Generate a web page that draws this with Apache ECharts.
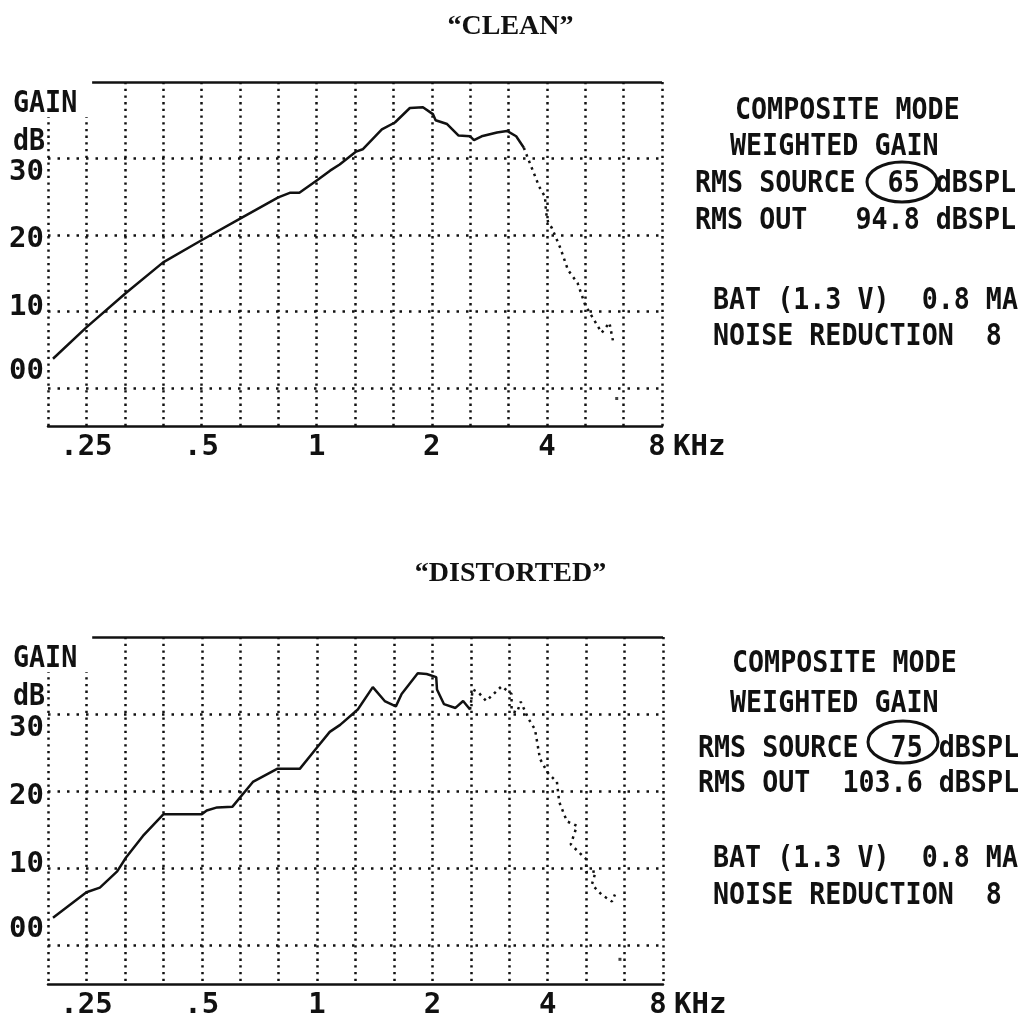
<!DOCTYPE html>
<html><head><meta charset="utf-8">
<script src="https://cdn.jsdelivr.net/npm/echarts@6/dist/echarts.min.js"></script>
<style>html,body{margin:0;padding:0;background:#fff}#c{width:1021px;height:1024px}</style>
</head><body><div id="c"></div>
<script>
// x positions are 1/3-octave band steps: band 1 = .25 kHz, band 16 = 8 kHz
const bandTicks = [1, 4, 7, 10, 13, 16];
const bandTickLabels = ['.25', '.5', '1', '2', '4', '8'];
const gainTicks = [0, 10, 20, 30];
const gainTickLabels = ['00', '10', '20', '30'];
const chartTitles = ['\u201CCLEAN\u201D', '\u201CDISTORTED\u201D'];

// "CLEAN" curve
const cleanSolidBand = [0.13, 1.0, 2.03, 3.0, 4.0, 5.03, 6.0, 6.3, 6.55, 7.03, 7.35, 7.6, 8.03, 8.2, 8.7, 9.04, 9.43, 9.77, 10.03, 10.1, 10.4, 10.7, 11.0, 11.1, 11.3, 11.7, 11.96, 12.2, 12.4];
const cleanSolidGain = [3.8, 7.9, 12.4, 16.4, 19.3, 22.2, 24.9, 25.5, 25.5, 27.2, 28.4, 29.2, 30.9, 31.2, 33.8, 34.7, 36.6, 36.7, 35.8, 35.0, 34.5, 33.0, 32.9, 32.4, 32.9, 33.4, 33.6, 32.9, 31.4];
const cleanDotBand = [12.4, 12.5, 12.65, 12.8, 12.95, 12.98, 13.03, 13.13, 13.35, 13.55, 13.8, 14.0, 14.43, 14.63, 14.72];
const cleanDotGain = [31.4, 30.1, 28.2, 26.3, 25.0, 22.9, 21.7, 20.9, 18.3, 15.4, 13.7, 10.8, 7.2, 8.5, 6.2];
const cleanStrayBand = [14.82];
const cleanStrayGain = [-1.4];

// "DISTORTED" curve
const distSolidBand = [0.13, 1.0, 1.35, 1.8, 2.03, 2.47, 3.0, 4.0, 4.13, 4.4, 4.8, 5.33, 5.96, 6.55, 7.02, 7.33, 7.6, 8.06, 8.45, 8.76, 9.05, 9.2, 9.62, 9.85, 10.1, 10.12, 10.3, 10.6, 10.8, 10.98];
const distSolidGain = [3.6, 6.9, 7.5, 9.6, 11.4, 14.2, 17.0, 17.0, 17.5, 17.9, 18.0, 21.2, 22.9, 22.9, 25.8, 27.7, 28.6, 30.6, 33.5, 31.7, 31.0, 32.6, 35.3, 35.2, 34.8, 33.2, 31.3, 30.8, 31.7, 30.6];
const distDotBand = [10.98, 11.05, 11.2, 11.4, 11.8, 12.06, 12.06, 12.2, 12.3, 12.5, 12.67, 12.8, 13.0, 13.24, 13.3, 13.5, 13.76, 13.6, 14.0, 14.0, 14.25, 14.15, 14.4, 14.67, 14.75];
const distDotGain = [30.6, 33.2, 32.8, 31.7, 33.6, 32.6, 30.4, 30.2, 31.6, 29.4, 28.0, 24.2, 22.4, 21.2, 18.6, 16.1, 15.5, 13.1, 11.2, 9.5, 9.6, 7.9, 6.6, 5.7, 6.6];
const distStrayBand = [14.88];
const distStrayGain = [-1.8];

// right-hand readout panels
const panelTopLines = ['COMPOSITE MODE', 'WEIGHTED GAIN', 'RMS SOURCE  65 dBSPL', 'RMS OUT   94.8 dBSPL', 'BAT (1.3 V)  0.8 MA', 'NOISE REDUCTION  8'];
const panelBottomLines = ['COMPOSITE MODE', 'WEIGHTED GAIN', 'RMS SOURCE  75 dBSPL', 'RMS OUT  103.6 dBSPL', 'BAT (1.3 V)  0.8 MA', 'NOISE REDUCTION  8'];

const INK = '#111';
const MONO = '"DejaVu Sans Mono", monospace';
const grids = [
  {left: 48, top: 82, width: 614, height: 344},
  {left: 48, top: 637, width: 615, height: 347}
];
const panelX = [[735, 730, 695, 695, 713, 713], [732, 730, 698, 698, 713, 713]];
const panelY = [[95, 131, 168, 205, 285, 321], [648, 688, 733, 768, 843, 880]];
const ellipses = [{cx: 902, cy: 182, rx: 35, ry: 20}, {cx: 903, cy: 742, rx: 35, ry: 21}];

const pairs = (b, g) => b.map((x, i) => [x, g[i]]);
const xRich = {
  n: {fontFamily: MONO, fontWeight: 'bold', fontSize: 29, color: INK},
  e: {fontFamily: MONO, fontWeight: 'bold', fontSize: 29, color: INK, padding: [0, 10, 0, 0]}
};
const bandFmt = v => {
  const i = bandTicks.indexOf(v);
  if (i < 0) return '';
  return (i === bandTicks.length - 1 ? '{e|' : '{n|') + bandTickLabels[i] + '}';
};
const shift = {0: [0, 0, 32, 0], 10: [0, 0, 8, 0], 20: [10, 0, 0, 0], 30: [28, 0, 0, 0]};
const rich = {};
gainTicks.forEach(v => { rich['s' + v] = {fontFamily: MONO, fontWeight: 'bold', fontSize: 29, color: INK, padding: shift[v]}; });
const gainFmt = v => { const i = gainTicks.indexOf(v); return i >= 0 ? '{s' + v + '|' + gainTickLabels[i] + '}' : ''; };

const xAxes = [], yAxes = [], series = [], graphics = [];
[0, 1].forEach(k => {
  xAxes.push({
    gridIndex: k, type: 'value', min: 0, max: 16, interval: 1,
    axisLine: {show: true, onZero: false, lineStyle: {color: INK, width: 2.5}},
    axisTick: {show: false},
    splitLine: {show: true, lineStyle: {color: INK, width: 2.5, type: [2.3, 4.4]}},
    axisLabel: {formatter: bandFmt, rich: xRich, margin: 7, color: INK, fontFamily: MONO, fontWeight: 'bold', fontSize: 29},
    name: 'KHz', nameLocation: 'end', nameGap: 11,
    nameTextStyle: {color: INK, fontFamily: MONO, fontWeight: 'bold', fontSize: 29, verticalAlign: 'top', align: 'left', padding: [7, 0, 0, 0]}
  });
  yAxes.push({
    gridIndex: k, type: 'value', min: -5, max: 40, minInterval: 10, maxInterval: 10, splitNumber: 5,
    axisLine: {show: false}, axisTick: {show: false},
    splitLine: {show: true, showMinLine: false, showMaxLine: false, lineStyle: {color: INK, width: 2.5, type: [2.5, 7]}},
    axisLabel: {formatter: gainFmt, rich: rich, margin: 4, color: INK}
  });
});

const solidStyle = {color: INK, width: 2.5};
const dotStyle = {color: INK, width: 2.5, type: [2.5, 4.5]};
const topBorder = k => ({
  symbol: 'none', silent: true, label: {show: false},
  lineStyle: {color: INK, width: 2.5, type: 'solid'},
  emphasis: {disabled: true},
  data: [[{coord: [1.15, 40]}, {coord: [16, 40]}]]
});
const addCurve = (k, sb, sg, db, dg, xb, xg) => {
  series.push({type: 'line', xAxisIndex: k, yAxisIndex: k, data: pairs(sb, sg), symbol: 'none', lineStyle: solidStyle, silent: true, markLine: topBorder(k), z: 5});
  series.push({type: 'line', xAxisIndex: k, yAxisIndex: k, data: pairs(db, dg), symbol: 'none', lineStyle: dotStyle, silent: true, z: 5});
  series.push({type: 'scatter', xAxisIndex: k, yAxisIndex: k, data: pairs(xb, xg), symbol: 'rect', symbolSize: [3, 3], itemStyle: {color: INK}, silent: true, z: 5});
};
addCurve(0, cleanSolidBand, cleanSolidGain, cleanDotBand, cleanDotGain, cleanStrayBand, cleanStrayGain);
addCurve(1, distSolidBand, distSolidGain, distDotBand, distDotGain, distStrayBand, distStrayGain);

const monoText = (txt, x, y) => ({
  type: 'text', x: x, y: y, scaleX: 0.86, z: 10, silent: true,
  style: {text: txt, font: 'bold 31px ' + MONO, fill: INK, textVerticalAlign: 'top', verticalAlign: 'top', textAlign: 'left', align: 'left'}
});
[0, 1].forEach(k => {
  const lines = k === 0 ? panelTopLines : panelBottomLines;
  lines.forEach((t, i) => graphics.push(monoText(t, panelX[k][i], panelY[k][i])));
  const e = ellipses[k];
  graphics.push({type: 'ellipse', shape: {cx: e.cx, cy: e.cy, rx: e.rx, ry: e.ry}, style: {fill: 'none', stroke: INK, lineWidth: 3}, z: 10, silent: true});
  // the printout leaves the first two grid columns blank behind the "GAIN" caption
  graphics.push({type: 'rect', shape: {x: 43, y: grids[k].top - 2, width: 48, height: 37}, style: {fill: '#fff'}, z: 8, silent: true});
  graphics.push(monoText('GAIN', 13, grids[k].top + 6));
  graphics.push(monoText('dB', 13, grids[k].top + 44));
});

const chart = echarts.init(document.getElementById('c'), null, {renderer: 'canvas'});
chart.setOption({
  animation: false,
  backgroundColor: '#fff',
  title: [
    {text: chartTitles[0], left: 'center', top: 8, textStyle: {fontFamily: '"Liberation Serif", serif', fontWeight: 'bold', fontSize: 28, color: INK}},
    {text: chartTitles[1], left: 'center', top: 555, textStyle: {fontFamily: '"Liberation Serif", serif', fontWeight: 'bold', fontSize: 28, color: INK}}
  ],
  grid: grids,
  xAxis: xAxes,
  yAxis: yAxes,
  series: series,
  graphic: graphics
});
</script></body></html>
